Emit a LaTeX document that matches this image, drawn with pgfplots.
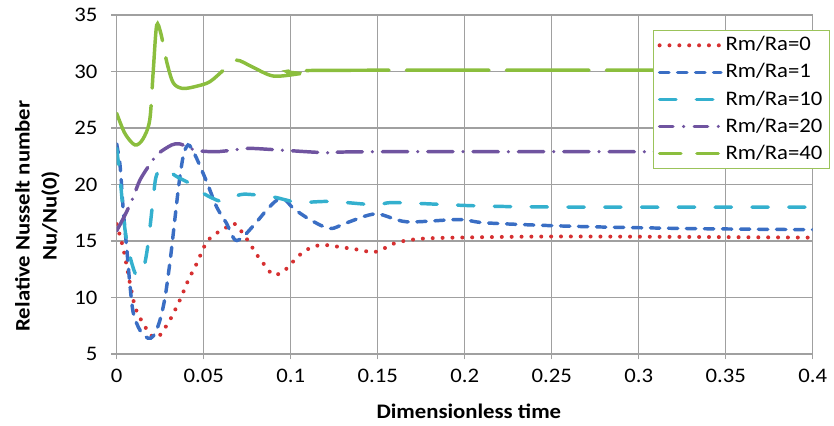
\documentclass[border=0pt]{standalone}
\usepackage{pgfplots}
\pgfplotsset{compat=1.18}
\usepackage{fontspec}
\setmainfont{Carlito}[FakeStretch=1.1]
\definecolor{cRed}{RGB}{214,48,49}
\definecolor{cBlue}{RGB}{58,110,196}
\definecolor{cCyan}{RGB}{52,176,206}
\definecolor{cPurple}{RGB}{112,84,160}
\definecolor{cGreen}{RGB}{139,190,62}
\definecolor{cLeg}{RGB}{155,195,90}
\definecolor{cGrid}{RGB}{160,160,160}
\begin{document}
\fontsize{15.5pt}{18pt}\selectfont
\begin{tikzpicture}
\path[use as bounding box] (0,0) rectangle (625.5pt,318.75pt);
\begin{axis}[
  at={(87.5pt,53.25pt)}, anchor=south west,
  scale only axis, width=522pt, height=254.25pt,
  xmin=0, xmax=0.4, ymin=5, ymax=35,
  xtick={0,0.05,0.1,0.15,0.2,0.25,0.3,0.35,0.4},
  xticklabels={0,0.05,0.1,0.15,0.2,0.25,0.3,0.35,0.4},
  ytick={5,10,15,20,25,30,35},
  yticklabels={5,10,15,20,25,30,35},
  tick pos=left, tick align=outside, major tick length=4pt,
  tick style={cGrid, line width=0.9pt},
  axis line style={cGrid, line width=0.9pt},
  grid=major, major grid style={cGrid, line width=0.9pt},
  tick label style={font=\fontsize{15.5pt}{18pt}\selectfont},
  xticklabel style={yshift=-2pt},
  yticklabel style={xshift=-5pt},
  xlabel={\bfseries Dimensionless time},
  xlabel style={at={(axis description cs:0.506,-0.170)}, anchor=center, font=\fontsize{15.5pt}{18pt}\selectfont},
  ylabel={\bfseries Relative Nusselt number\\\bfseries Nu/Nu(0)},
  ylabel style={at={(axis description cs:-0.114,0.407)}, anchor=center, rotate=0, align=center, font=\fontsize{15.5pt}{20.25pt}\selectfont},
  legend style={at={(rel axis cs:0.7706,0.9558)}, anchor=north west,
    draw=cLeg, line width=0.9pt, fill=white,
    font=\fontsize{15.5pt}{18pt}\selectfont,
    row sep=3.2pt, inner xsep=3pt, inner ysep=2.5pt},
  legend cell align=left,
  legend image code/.code={\draw[#1] (0pt,0pt) -- (46pt,0pt);},
  every axis plot/.append style={line width=2.6pt, line cap=round, smooth, tension=0.5},
]
\addplot[cRed, dash pattern=on 0pt off 7.4pt, line width=3pt] coordinates {
(0,16.5) (0.004,14.2) (0.0077,11.2) (0.0105,9.2) (0.0134,8.2) (0.0172,7.2) (0.021,6.5) (0.0245,6.6) (0.0268,7.1) (0.0306,8.0) (0.0364,9.8) (0.0412,11.55) (0.046,13.0) (0.0517,14.9) (0.0575,15.7) (0.063,16.2) (0.068,16.5) (0.0747,15.2) (0.0814,13.6) (0.086,12.7) (0.09,12.0) (0.0958,12.3) (0.1015,13.2) (0.107,14.0) (0.113,14.5) (0.119,14.65) (0.127,14.5) (0.14,14.2) (0.147,14.0) (0.152,14.2) (0.158,14.7) (0.165,15.0) (0.175,15.2) (0.195,15.3) (0.26,15.4) (0.4,15.3)
};
\addlegendentry{Rm/Ra=0}
\addplot[cBlue, dash pattern=on 7pt off 6.5pt] coordinates {
(0,23.6) (0.002,21.6) (0.0038,17.7) (0.0057,14.5) (0.0077,11.0) (0.0096,8.6) (0.0134,7.1) (0.018,6.4) (0.0211,6.6) (0.0245,7.8) (0.0278,10.0) (0.031,13.6) (0.0335,17.0) (0.036,20.3) (0.0385,22.7) (0.041,23.5) (0.043,23.2) (0.046,22.3) (0.0517,20.25) (0.0575,18.0) (0.063,16.6) (0.068,15.1) (0.0728,15.4) (0.0805,16.7) (0.086,17.7) (0.092,18.6) (0.097,18.6) (0.1015,17.9) (0.111,16.9) (0.1226,16.1) (0.132,16.6) (0.149,17.4) (0.1667,16.7) (0.197,16.9) (0.2126,16.6) (0.262,16.3) (0.33,16.1) (0.4,16.0)
};
\addlegendentry{Rm/Ra=1}
\addplot[cCyan, dash pattern=on 12.3pt off 15.3pt] coordinates {
(0,23.2) (0.002,20.5) (0.0048,16.0) (0.0077,13.6) (0.0115,11.9) (0.0153,12.5) (0.018,14.7) (0.021,18.8) (0.0225,20.6) (0.025,21.4) (0.029,21.3) (0.0345,20.7) (0.042,20.1) (0.048,19.4) (0.0536,18.9) (0.061,18.5) (0.071,19.1) (0.0785,19.1) (0.09,18.9) (0.098,18.6) (0.105,18.4) (0.123,18.5) (0.149,18.2) (0.16,18.4) (0.209,18.1) (0.262,18.0) (0.4,18.0)
};
\addlegendentry{Rm/Ra=10}
\addplot[cPurple, dash pattern=on 19pt off 7.5pt on 0pt off 7.5pt,
  legend image post style={dash pattern=on 10pt off 8pt on 0pt off 8pt}] coordinates {
(0,15.9) (0.0048,17.3) (0.0096,18.9) (0.0134,20.4) (0.020,22.0) (0.024,22.75) (0.0316,23.5) (0.036,23.6) (0.041,23.3) (0.046,23.0) (0.057,22.9) (0.067,23.05) (0.076,23.2) (0.094,23.05) (0.123,22.8) (0.15,22.9) (0.4,22.9)
};
\addlegendentry{Rm/Ra=20}
\addplot[cGreen, dash pattern=on 62pt off 13pt,
  legend image post style={dash pattern=on 16pt off 12pt}] coordinates {
(0,26.3) (0.0048,24.5) (0.0105,23.5) (0.015,24.0) (0.019,25.7) (0.021,30.0) (0.023,34.1) (0.0255,33.3) (0.0287,30.9) (0.0325,29.0) (0.038,28.5) (0.046,28.7) (0.0536,29.1) (0.062,30.2) (0.069,31.0) (0.078,30.4) (0.09,29.6) (0.105,29.8) (0.119,30.1) (0.4,30.1)
};
\addlegendentry{Rm/Ra=40}
\end{axis}
\end{tikzpicture}
\end{document}
